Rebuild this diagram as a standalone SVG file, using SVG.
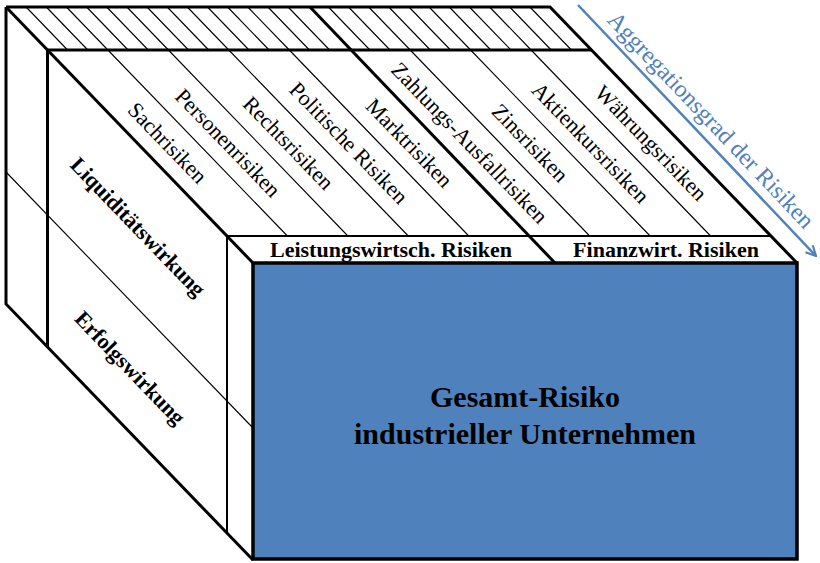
<svg xmlns="http://www.w3.org/2000/svg" width="820" height="563" viewBox="0 0 820 563">
<defs>
<style>
.thick{stroke:#000;stroke-width:3;fill:none;stroke-linejoin:miter}
.med{stroke:#000;stroke-width:2;fill:none}
.thin{stroke:#000;stroke-width:1.1;fill:none}
.lab{font-family:"Liberation Serif","Times New Roman",serif;font-size:22px;fill:#000}
.bold{font-weight:bold}
.agg{font-family:"Liberation Serif","Times New Roman",serif;font-size:24px;fill:#4F81BD}
</style>
<marker id="arr" viewBox="0 0 12 12" refX="11" refY="6" markerWidth="12" markerHeight="12" markerUnits="userSpaceOnUse" orient="auto">
<path d="M1,1 L11,6 L1,11" fill="none" stroke="#4F81BD" stroke-width="2.2"/>
</marker>
</defs>
<rect width="820" height="563" fill="#fff"/>

<g id="connectors">
<g class="thin">
<path d="M26.1,7 L67.6,50 M46.3,7 L87.8,50 M66.4,7 L107.9,50 M86.6,7 L128.1,50 M106.7,7 L148.2,50 M126.9,7 L168.4,50 M147,7 L188.5,50 M167.2,7 L208.7,50 M187.3,7 L228.8,50 M207.5,7 L249,50 M227.6,7 L269.1,50 M247.8,7 L289.3,50 M267.9,7 L309.4,50 M288.1,7 L329.6,50 M328.4,7 L369.9,50 M348.5,7 L390,50 M368.7,7 L410.2,50 M388.8,7 L430.3,50 M409,7 L450.5,50 M429.1,7 L470.6,50 M449.3,7 L490.8,50 M469.4,7 L510.9,50 M489.6,7 L531.1,50 M509.7,7 L551.2,50 M529.9,7 L571.4,50"/>
<path d="M107.9,50 L287.4,236 M168.4,50 L347.9,236 M228.8,50 L408.3,236 M289.3,50 L468.8,236 M410.2,50 L589.7,236 M470.6,50 L650.1,236 M531.1,50 L710.6,236"/>
<path d="M6,172 L253,428"/>
</g>
<g class="med">
<path d="M227,236 H771"/>
<path d="M227,236 V533"/>
</g>
<g class="thick">
<path d="M6,7 H550 L797,263"/>
<path d="M6,7 V304 L253,560"/>
<path d="M6,7 L253,263"/>
<path d="M47.5,50 H591.5"/>
<path d="M47.5,50 V347"/>
<path d="M310,7 L555,263"/>
</g>
<path d="M578,5 L816,256" stroke="#4F81BD" stroke-width="2.5" fill="none" marker-end="url(#arr)"/>
</g>

<g id="gesamt">
<rect x="253" y="263" width="544" height="296" fill="#4F81BD" stroke="#000" stroke-width="3.5"/>
<text class="lab bold" style="font-size:30px" x="525" y="407" text-anchor="middle">Gesamt-Risiko</text>
<text class="lab bold" style="font-size:30px" x="525" y="444" text-anchor="middle">industrieller Unternehmen</text>
</g>

<g id="leistung">
<text class="lab bold" x="391" y="257" text-anchor="middle">Leistungswirtsch. Risiken</text>
</g>
<g id="finanz">
<text class="lab bold" x="666" y="257" text-anchor="middle">Finanzwirt. Risiken</text>
</g>

<g id="liquiditaet">
<text class="lab bold" x="138" y="227" dy="0.33em" text-anchor="middle" transform="rotate(46 138 227)">Liquiditätswirkung</text>
</g>
<g id="erfolg">
<text class="lab bold" x="130" y="368" dy="0.33em" text-anchor="middle" transform="rotate(46 130 368)">Erfolgswirkung</text>
</g>

<g id="sach"><text class="lab" x="167.4" y="143" dy="0.33em" text-anchor="middle" transform="rotate(46 167.4 143)">Sachrisiken</text></g>
<g id="personen"><text class="lab" x="227.9" y="143" dy="0.33em" text-anchor="middle" transform="rotate(46 227.9 143)">Personenrisiken</text></g>
<g id="recht"><text class="lab" x="288.3" y="143" dy="0.33em" text-anchor="middle" transform="rotate(46 288.3 143)">Rechtsrisiken</text></g>
<g id="politisch"><text class="lab" x="348.7" y="143" dy="0.33em" text-anchor="middle" transform="rotate(46 348.7 143)">Politische Risiken</text></g>
<g id="markt"><text class="lab" x="409.2" y="143" dy="0.33em" text-anchor="middle" transform="rotate(46 409.2 143)">Marktrisiken</text></g>
<g id="zahlung"><text class="lab" x="469.6" y="143" dy="0.33em" text-anchor="middle" transform="rotate(46 469.6 143)">Zahlungs-Ausfallrisiken</text></g>
<g id="zins"><text class="lab" x="530" y="143" dy="0.33em" text-anchor="middle" transform="rotate(46 530 143)">Zinsrisiken</text></g>
<g id="aktien"><text class="lab" x="590.5" y="143" dy="0.33em" text-anchor="middle" transform="rotate(46 590.5 143)">Aktienkursrisiken</text></g>
<g id="waehrung"><text class="lab" x="650.9" y="143" dy="0.33em" text-anchor="middle" transform="rotate(46 650.9 143)">Währungsrisiken</text></g>

<g id="aggregation">
<text class="agg" x="711" y="120" dy="0.33em" text-anchor="middle" transform="rotate(46.5 711 120)">Aggregationsgrad der Risiken</text>
</g>
</svg>
